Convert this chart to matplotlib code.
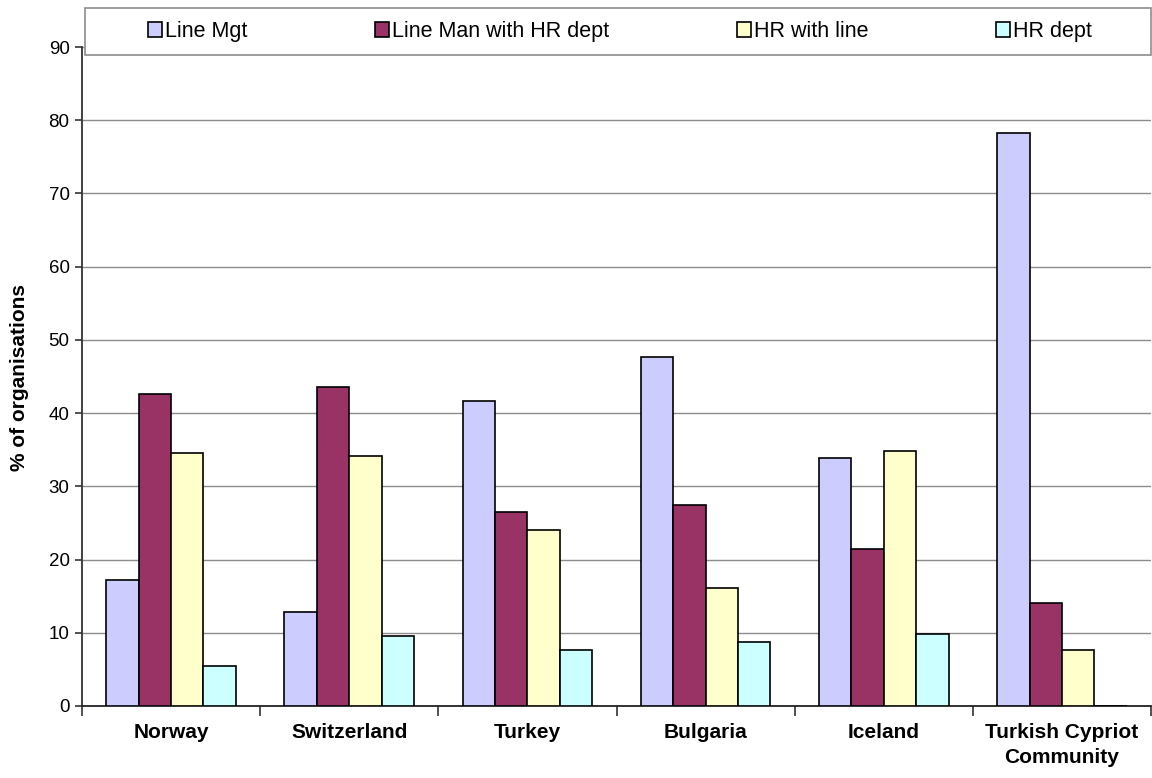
import matplotlib
matplotlib.use('Agg')
import matplotlib.pyplot as plt
import numpy as np
from matplotlib.patches import Rectangle

categories = ['Norway', 'Switzerland', 'Turkey', 'Bulgaria', 'Iceland', 'Turkish Cypriot\nCommunity']
series_names = ['Line Mgt', 'Line Man with HR dept', 'HR with line', 'HR dept']
line_mgt = [17.2, 12.8, 41.6, 47.7, 33.9, 78.2]
line_man_hr = [42.6, 43.6, 26.5, 27.5, 21.4, 14.1]
hr_with_line = [34.6, 34.1, 24.0, 16.1, 34.8, 7.7]
hr_dept = [5.5, 9.5, 7.7, 8.7, 9.8, 0.0]
colors = ['#CCCCFF', '#993366', '#FFFFCC', '#CCFFFF']
yticks = list(range(0, 91, 10))

plt.rcParams['font.family'] = ['Liberation Sans', 'DejaVu Sans']

W, H = 1152, 778
fig = plt.figure(figsize=(W / 100, H / 100), dpi=100)
ax = fig.add_axes([82 / W, (H - 706) / H, (1151 - 82) / W, (706 - 47) / H])

series = [line_mgt, line_man_hr, hr_with_line, hr_dept]
x = np.arange(len(categories))
bw = 1 / 5.5
handles = []
for i, (vals, name, c) in enumerate(zip(series, series_names, colors)):
    b = ax.bar(x + (i - 1.5) * bw, vals, bw, color=c, edgecolor='black',
               linewidth=1.2, label=name, zorder=3)
    handles.append(b)

ax.set_xlim(-0.5, len(categories) - 0.5)
ax.set_ylim(0, 90)
ax.set_yticks(yticks)
ax.set_yticklabels([str(v) for v in yticks], fontsize=13.5)
ax.yaxis.grid(True, color='#8c8c8c', linewidth=1.0, zorder=0)
ax.set_axisbelow(True)
for s in ['top', 'right']:
    ax.spines[s].set_visible(False)
ax.spines['left'].set_color('#333333')
ax.spines['left'].set_linewidth(1.3)
ax.spines['bottom'].set_color('#222222')
ax.spines['bottom'].set_linewidth(1.3)

ax.set_xticks(x)
ax.set_xticklabels(categories, fontsize=15, fontweight='bold', multialignment='center',
                   linespacing=1.45)
ax.tick_params(axis='x', which='major', length=0, pad=12)
ax.set_xticks(np.arange(-0.5, len(categories), 1.0), minor=True)
ax.tick_params(axis='x', which='minor', length=7, width=1.2, color='#333333', direction='out')
ax.tick_params(axis='y', length=5, width=1.2, color='#333333', pad=4)

fig.text(20 / W, 1 - 377 / H, '% of organisations', rotation=90, ha='center', va='center',
         fontsize=15, fontweight='bold')

# legend frame
frame = Rectangle((85 / W, (H - 55) / H), (1151 - 85) / W, 47 / H, transform=fig.transFigure,
                  facecolor='white', edgecolor='#8c8c8c', linewidth=1.2, zorder=4)
fig.patches.append(frame)
leg = fig.legend(handles=handles, labels=series_names, loc='center',
                 bbox_to_anchor=(148 / W, (H - 55) / H, (1092 - 148) / W, 47 / H),
                 mode='expand', ncol=4, frameon=False, borderaxespad=0, borderpad=0,
                 handlelength=0.65, handleheight=0.65, handletextpad=0.15, fontsize=15.5)
leg.set_zorder(5)

fig.savefig('out.png', dpi=100)
